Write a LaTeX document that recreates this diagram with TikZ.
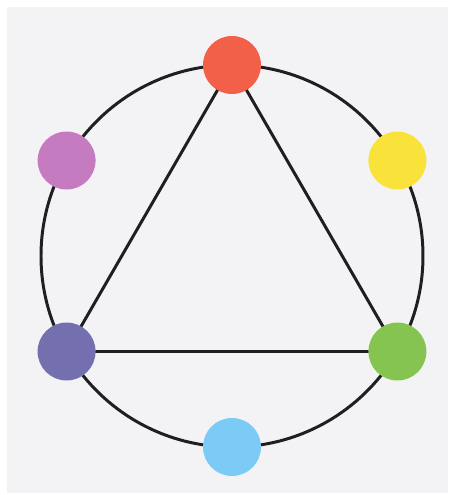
\documentclass[tikz,border=0pt]{standalone}
\usetikzlibrary{backgrounds,calc}
\definecolor{bggray}{RGB}{243,243,246}
\definecolor{dotred}{RGB}{242,96,74}
\definecolor{dotyellow}{RGB}{249,227,58}
\definecolor{dotgreen}{RGB}{134,196,81}
\definecolor{dotblue}{RGB}{124,203,247}
\definecolor{dotviolet}{RGB}{116,112,176}
\definecolor{dotmagenta}{RGB}{197,123,192}

\begin{document}
\begin{tikzpicture}[x=0.02cm,y=0.02cm,
  dot/.style={circle,inner sep=0pt,minimum size=1.16cm},
  rim/.style={line width=1.7pt,draw=black!88}]
\useasboundingbox (0,0) rectangle (449,495);
% six colours round the wheel
\coordinate (c) at (232,239);
\def\rad{191}
\foreach \name/\ang/\col in {r/90/dotred, y/30/dotyellow, g/-30/dotgreen,
    b/-90/dotblue, v/210/dotviolet, m/150/dotmagenta}{
  \node[dot,fill=\col] (\name) at ($(c)+(\ang:\rad)$) {};
}
% frame, wheel and primary triangle behind the dots
\begin{scope}[on background layer]
\fill[white] (0,0) rectangle (449,495);
\fill[bggray] (7,2) rectangle (448,488);
\draw[rim] (c) circle[radius=\rad];
\draw[rim,line join=round] (r.center) -- (v.center) -- (g.center) -- cycle;
\end{scope}
\end{tikzpicture}
\end{document}
